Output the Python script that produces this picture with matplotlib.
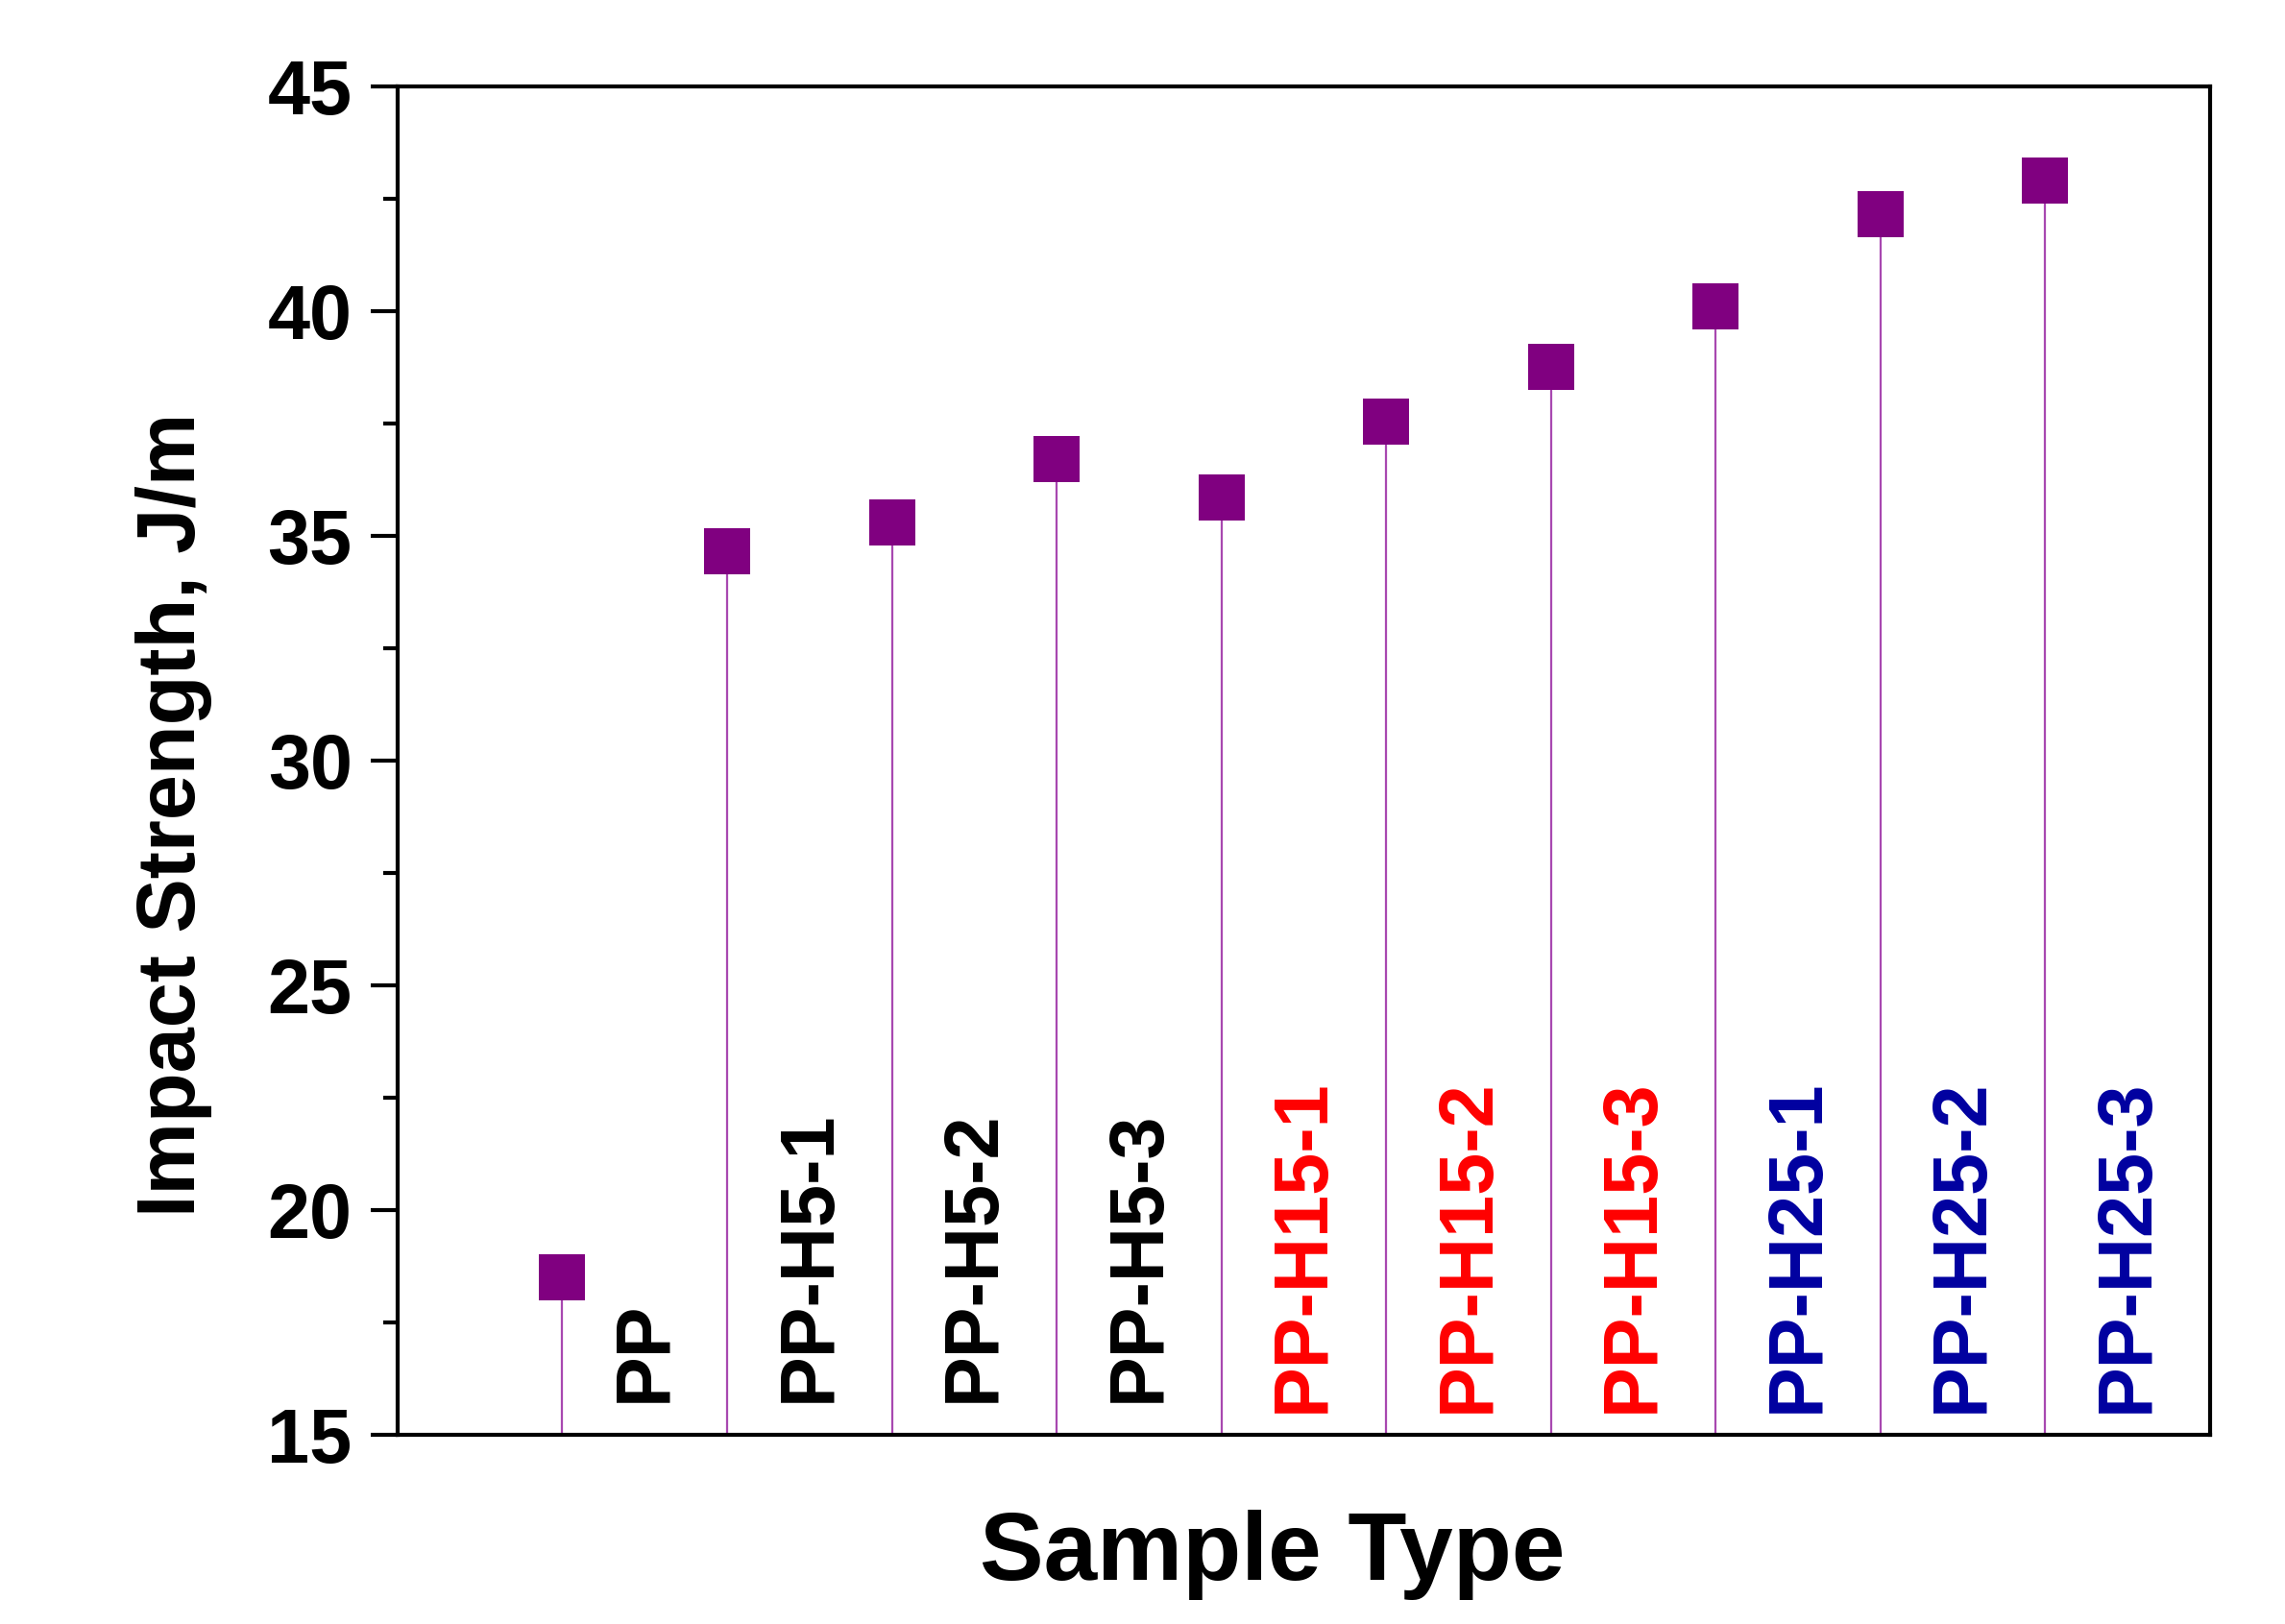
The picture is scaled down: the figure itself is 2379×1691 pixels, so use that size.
import numpy as np
import matplotlib
matplotlib.use('Agg')
import matplotlib.pyplot as plt
from matplotlib.ticker import MultipleLocator

plt.rcParams['font.family'] = ['Liberation Sans', 'DejaVu Sans']
plt.rcParams['font.weight'] = 'bold'

samples = ['PP', 'PP-H5-1', 'PP-H5-2', 'PP-H5-3',
           'PP-H15-1', 'PP-H15-2', 'PP-H15-3',
           'PP-H25-1', 'PP-H25-2', 'PP-H25-3']
impact = [18.5, 34.65, 35.3, 36.7, 35.85, 37.55, 38.75, 40.1, 42.15, 42.9]
label_colors = ['black', 'black', 'black', 'black',
                '#ff0000', '#ff0000', '#ff0000',
                '#0000a0', '#0000a0', '#0000a0']

x = np.arange(1, len(samples) + 1)

fig = plt.figure(figsize=(23.79, 16.91), dpi=100)
ax = fig.add_axes([0.174, 0.1165, 0.7932, 0.8303])

# stems from the bottom of the axis up to each value
ax.vlines(x, 15, impact, color='#a848b0', linewidth=1.6, zorder=2)
ax.plot(x, impact, linestyle='none', marker='s', markersize=35,
        color='#800080', markeredgewidth=0, zorder=3)

for xi, name, c in zip(x, samples, label_colors):
    y0 = 15.72 if c == 'black' else 15.5
    ax.text(xi + 0.5, y0, name, rotation=90, ha='center', va='bottom',
            fontsize=57, fontweight='bold', color=c)

ax.set_xlim(0, 11)
ax.set_ylim(15, 45)
ax.set_xticks([])
ax.yaxis.set_major_locator(MultipleLocator(5))
ax.yaxis.set_minor_locator(MultipleLocator(2.5))
ax.tick_params(axis='y', which='major', length=20, width=3, pad=14, labelsize=57)
ax.tick_params(axis='y', which='minor', length=11, width=3)
for lbl in ax.get_yticklabels():
    lbl.set_fontweight('bold')
for sp in ax.spines.values():
    sp.set_linewidth(3)

fig.text(181 / 2379, 1 - 848 / 1691, 'Impact Strength, J/m', rotation=90,
         ha='center', va='center', fontsize=61, fontweight='bold')
fig.text(1325 / 2379, 1 - 1645 / 1691, 'Sample Type', ha='center', va='baseline',
         fontsize=72, fontweight='bold')

fig.savefig('out.png', dpi=100)
